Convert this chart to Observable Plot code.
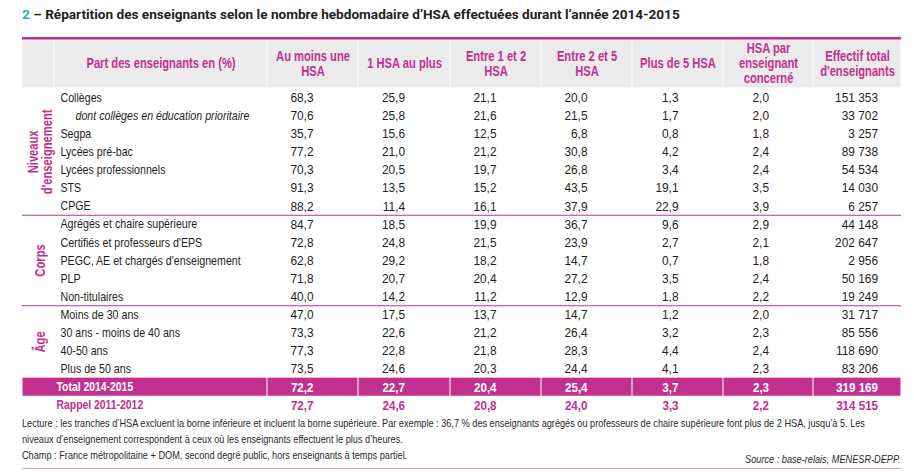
<!DOCTYPE html>
<html><head><meta charset="utf-8">
<script src="https://cdn.jsdelivr.net/npm/d3@7"></script>
<script src="https://cdn.jsdelivr.net/npm/@observablehq/plot@0.6"></script>
<style>
body{margin:0;background:#fff;width:914px;height:472px;position:relative;overflow:hidden;}
.narrow{font-family:'Liberation Sans',Arial,sans-serif;transform:scaleX(0.82);transform-origin:0 0;}
#title{position:absolute;left:22px;top:5px;font-family:Roboto,'Liberation Sans',sans-serif;font-weight:bold;font-size:13.6px;line-height:18px;color:#222;white-space:nowrap;}
#title .num{color:#1ab3c6;}
#chart{position:absolute;left:0;top:30px;}
.note{position:absolute;left:22px;font-size:11.2px;line-height:16px;color:#2a2a2a;white-space:nowrap;}
#src{position:absolute;right:14px;top:451px;font-style:italic;font-size:11.2px;line-height:16px;color:#2a2a2a;white-space:nowrap;transform-origin:100% 0;}
#bottomline{position:absolute;left:22px;width:879px;top:468px;height:1px;background:#e59bcc;}
</style></head>
<body>
<div id="title"><span class="num">2</span> – Répartition des enseignants selon le nombre hebdomadaire d’HSA effectuées durant l’année 2014-2015</div>
<div id="chart"></div>
<div class="note narrow" style="top:415px">Lecture : les tranches d’HSA excluent la borne inférieure et incluent la borne supérieure. Par exemple : 36,7 % des enseignants agrégés ou professeurs de chaire supérieure font plus de 2 HSA, jusqu’à 5. Les</div>
<div class="note narrow" style="top:431px">niveaux d’enseignement correspondent à ceux où les enseignants effectuent le plus d’heures.</div>
<div class="note narrow" style="top:446.5px">Champ : France métropolitaine + DOM, second degré public, hors enseignants à temps partiel.</div>
<div id="src" class="narrow">Source : base-relais, MENESR-DEPP.</div>
<div id="bottomline"></div>
<script>
// ---------- data ----------
const bodyRowLabels = [
  "Collèges", "dont collèges en éducation prioritaire", "Segpa", "Lycées pré-bac",
  "Lycées professionnels", "STS", "CPGE",
  "Agrégés et chaire supérieure", "Certifiés et professeurs d'EPS",
  "PEGC, AE et chargés d'enseignement", "PLP", "Non-titulaires",
  "Moins de 30 ans", "30 ans - moins de 40 ans", "40-50 ans", "Plus de 50 ans"
];
const subRowLabels = ["dont collèges en éducation prioritaire"];
const summaryLabels = ["Total 2014-2015", "Rappel 2011-2012"];
const groupLabels = ["Niveaux\nd'enseignement", "Corps", "Âge"];
const groupSizes = [7, 5, 4];
const stubHeader = "Part des enseignants en (%)";
const columnLabels = [
  "Au moins une\nHSA", "1 HSA au plus", "Entre 1 et 2\nHSA", "Entre 2 et 5\nHSA",
  "Plus de 5 HSA", "HSA par\nenseignant\nconcerné", "Effectif total\nd'enseignants"
];
const auMoinsUneHSA = [68.3, 70.6, 35.7, 77.2, 70.3, 91.3, 88.2, 84.7, 72.8, 62.8, 71.8, 40.0, 47.0, 73.3, 77.3, 73.5, 72.2, 72.7];
const unHSAauPlus   = [25.9, 25.8, 15.6, 21.0, 20.5, 13.5, 11.4, 18.5, 24.8, 29.2, 20.7, 14.2, 17.5, 22.6, 22.8, 24.6, 22.7, 24.6];
const entre1et2HSA  = [21.1, 21.6, 12.5, 21.2, 19.7, 15.2, 16.1, 19.9, 21.5, 18.2, 20.4, 11.2, 13.7, 21.2, 21.8, 20.3, 20.4, 20.8];
const entre2et5HSA  = [20.0, 21.5, 6.8, 30.8, 26.8, 43.5, 37.9, 36.7, 23.9, 14.7, 27.2, 12.9, 14.7, 26.4, 28.3, 24.4, 25.4, 24.0];
const plusDe5HSA    = [1.3, 1.7, 0.8, 4.2, 3.4, 19.1, 22.9, 9.6, 2.7, 0.7, 3.5, 1.8, 1.2, 3.2, 4.4, 4.1, 3.7, 3.3];
const hsaParEnseignant = [2.0, 2.0, 1.8, 2.4, 2.4, 3.5, 3.9, 2.9, 2.1, 1.8, 2.4, 2.2, 2.0, 2.3, 2.4, 2.3, 2.3, 2.2];
const effectifTotal = [151353, 33702, 3257, 89738, 54534, 14030, 6257, 44148, 202647, 2956, 50169, 19249, 31717, 85556, 118690, 83206, 319169, 314515];

// ---------- layout ----------
const FONT = "'Liberation Sans',Arial,sans-serif";
const magenta = "#c2308f";
const ink = "#1e1e1e";
const colWidths = [32, 213, 91, 92, 91, 91, 91, 90, 88];
const edges = Array.from(d3.cumsum([0, ...colWidths]));
const rowH = 18.1, headerH = 50.3, mTop = 7.75, mBottom = 4.2;

const rowLabels = [...bodyRowLabels, ...summaryLabels];
const nRows = rowLabels.length;
const nBody = bodyRowLabels.length;
const yTop = -0.5 - headerH / rowH;
const height = mTop + headerH + nRows * rowH + mBottom;

const series = [auMoinsUneHSA, unHSAauPlus, entre1et2HSA, entre2et5HSA, plusDe5HSA, hsaParEnseignant, effectifTotal];
const fr = d3.formatLocale({decimal: ",", thousands: "\u00a0", grouping: [3], currency: ["", " €"]});
const fmtPct = fr.format(".1f");
const fmtInt = fr.format(",d");

const cells = [];
series.forEach((s, j) => s.forEach((v, i) => cells.push({i, j, v, t: j === 6 ? fmtInt(v) : fmtPct(v)})));
const colCenter = j => (edges[j + 2] + edges[j + 3]) / 2;
const cellX = c => c.j < 6 ? colCenter(c.j) : edges[edges.length - 1] - 24;

const groups = [];
let start = 0;
groupLabels.forEach((g, k) => { groups.push({label: g, start, end: start + groupSizes[k] - 1}); start += groupSizes[k]; });

const rows = rowLabels.map((label, i) => ({label, i}));
const iTotal = nBody, iRappel = nBody + 1;
const xEnd = edges[edges.length - 1];
const summaryFill = d => d.i === iTotal ? "white" : magenta;

const chart = Plot.plot({
  width: 914, height,
  marginLeft: 22, marginRight: 13, marginTop: mTop, marginBottom: mBottom,
  x: {domain: [0, xEnd], axis: null},
  y: {domain: [yTop, nRows - 0.5], reverse: true, axis: null},
  style: {fontFamily: FONT, background: "white", overflow: "visible"},
  marks: [
    // header background cells
    Plot.rect(d3.range(colWidths.length), {x1: j => edges[j], x2: j => edges[j + 1], y1: yTop, y2: -0.5,
      fill: "#ebebeb", insetLeft: 0.5, insetRight: 0.5, insetBottom: 0.6}),
    Plot.ruleY([yTop], {x1: 0, x2: xEnd, stroke: magenta, strokeWidth: 2.6}),
    // header texts
    Plot.text([stubHeader], {x: (edges[1] + edges[2]) / 2, y: (yTop - 0.5) / 2, text: d => d,
      fill: magenta, fontWeight: "bold", fontSize: 14}),
    Plot.text(columnLabels, {x: (d, j) => colCenter(j), y: (yTop - 0.5) / 2, text: d => d,
      fill: magenta, fontWeight: "bold", fontSize: 14, lineHeight: 1.08}),
    // group separators
    Plot.ruleY(groups.slice(1), {y: g => g.start - 0.5, x1: 0, x2: xEnd, stroke: magenta, strokeWidth: 1.2}),
    // total row band
    Plot.rect([[0, 2], ...d3.range(2, colWidths.length).map(j => [j, j + 1])], {
      x1: d => edges[d[0]], x2: d => edges[d[1]], y1: iTotal - 0.5, y2: iTotal + 0.5,
      fill: magenta, insetLeft: 0.5, insetRight: 0.5}),
    // group labels
    Plot.text(groups, {x: edges[0] + colWidths[0] / 2, y: g => (g.start + g.end) / 2, text: "label",
      rotate: -90, fill: magenta, fontWeight: "bold", fontSize: 14, lineHeight: 1.0, dx: 2}),
    // row labels
    Plot.text(rows.filter(r => r.i < nBody && !subRowLabels.includes(r.label)), {x: edges[1], y: "i", text: "label",
      textAnchor: "start", dx: 6, fill: ink, fontSize: 13}),
    Plot.text(rows.filter(r => subRowLabels.includes(r.label)), {x: edges[1], y: "i", text: "label",
      textAnchor: "start", dx: 21, fill: ink, fontSize: 13, fontStyle: "italic"}),
    Plot.text(rows.filter(r => r.i >= nBody), {x: edges[1], y: "i", text: "label",
      textAnchor: "start", dx: 2, fill: summaryFill, fontWeight: "bold", fontSize: 13}),
    // values
    Plot.text(cells.filter(c => c.i < nBody), {x: cellX, y: "i", text: "t", textAnchor: "end",
      dx: 0.5, fill: ink, fontSize: 13.5}),
    Plot.text(cells.filter(c => c.i >= nBody), {x: cellX, y: "i", text: "t", textAnchor: "end",
      dx: 0.5, fill: summaryFill, fontWeight: "bold", fontSize: 13.5})
  ]
});
document.getElementById("chart").appendChild(chart);

// condense glyphs around each text's own anchor (the original uses a condensed typeface,
// whose figures are relatively wide)
chart.querySelectorAll("text").forEach(t => {
  const cs = getComputedStyle(t);
  const bold = cs.fontWeight === "bold" || +cs.fontWeight >= 600;
  const numeric = /^[\d\s,\u00a0]+$/.test(t.textContent);
  const k = numeric ? (bold ? 0.86 : 0.88) : (bold ? 0.8 : 0.82);
  const b = t.getBBox();
  const anchor = cs.textAnchor;
  const ax = anchor === "end" ? b.x + b.width : anchor === "middle" ? b.x + b.width / 2 : b.x;
  const tr = t.getAttribute("transform") || "";
  t.setAttribute("transform", `${tr} translate(${ax},0) scale(${k},1) translate(${-ax},0)`);
});
</script>
</body></html>
